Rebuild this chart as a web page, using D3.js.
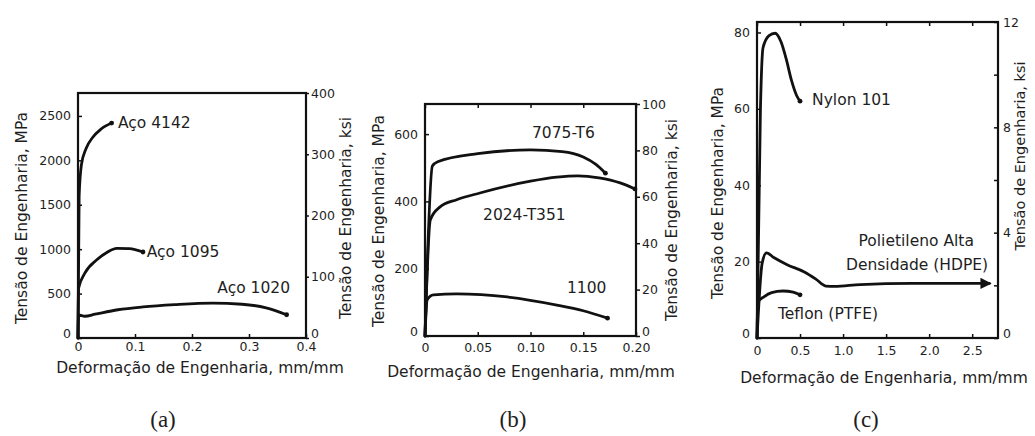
<!DOCTYPE html>
<html>
<head>
<meta charset="utf-8">
<script src="https://cdn.jsdelivr.net/npm/d3@7"></script>
<style>
  body { margin: 0; background: #fff; }
  svg text { font-family: "DejaVu Sans", sans-serif; fill: #1e1e1e; }
</style>
</head>
<body>
<div id="chart"></div>
<script>
// curves: [strain mm/mm, stress MPa]
var aco4142 = [[0,0],[0.002,1600],[0.006,1950],[0.014,2130],[0.026,2260],[0.04,2350],[0.059,2420]];
var aco1095 = [[0,0],[0.001,560],[0.012,730],[0.033,880],[0.05,960],[0.068,1010],[0.09,1005],[0.114,968]];
var aco1020 = [[0,0],[0.001,260],[0.012,245],[0.03,268],[0.07,318],[0.114,350],[0.17,375],[0.236,392],[0.288,380],[0.33,340],[0.366,262]];

var al7075 = [[0,0],[0.007,505],[0.012,518],[0.05,542],[0.1,553],[0.13,548],[0.15,532],[0.162,510],[0.171,484]];
var al2024 = [[0,0],[0.005,345],[0.014,383],[0.03,405],[0.052,425],[0.1,460],[0.125,472],[0.145,476],[0.165,470],[0.185,455],[0.199,437]];
var al1100 = [[0,0],[0.002,107],[0.008,122],[0.03,125],[0.078,116],[0.125,92],[0.15,75],[0.173,53]];

var nylon101 = [[0,0],[0.04,60],[0.07,76],[0.14,79.2],[0.21,79.8],[0.28,77.5],[0.34,73],[0.4,67.5],[0.46,63.5],[0.5,62]];
var hdpe = [[0,0],[0.06,19.6],[0.11,22.3],[0.2,21],[0.35,19.2],[0.55,17.3],[0.68,15.5],[0.8,13.6],[0.9,13.5],[1.2,14],[1.8,14.3],[2.7,14.3]];
var teflon = [[0,0],[0.01,9.4],[0.08,10.8],[0.17,11.9],[0.3,12.3],[0.42,12],[0.5,11.3]];

// tick labels
var xTicksA = [0, 0.1, 0.2, 0.3, 0.4];
var yTicksA = [0, 500, 1000, 1500, 2000, 2500];
var ksiTicksA = [0, 100, 200, 300, 400];
var xTicksB = [0, 0.05, 0.10, 0.15, 0.20];
var yTicksB = [0, 200, 400, 600];
var ksiTicksB = [0, 20, 40, 60, 80, 100];
var xTicksC = [0, 0.5, 1.0, 1.5, 2.0, 2.5];
var yTicksC = [0, 20, 40, 60, 80];
var ksiTicksC = [0, 2, 4, 6, 8, 10, 12];
var ksiLabelsC = [0, 4, 8, 12];

var MPA_PER_KSI = 6.895;

var svg = d3.select("#chart").append("svg")
    .attr("width", 1035)
    .attr("height", 436);

svg.append("defs").append("marker")
    .attr("id", "arrow")
    .attr("viewBox", "0 0 10 10")
    .attr("refX", 8).attr("refY", 5)
    .attr("markerWidth", 4).attr("markerHeight", 4)
    .attr("orient", "auto")
  .append("path")
    .attr("d", "M0,0 L10,5 L0,10 z")
    .attr("fill", "#111");

function panel(cfg) {
    var x = d3.scaleLinear().domain(cfg.xDomain).range(cfg.xRange);
    var y = d3.scaleLinear().domain([0, cfg.ksiMax * MPA_PER_KSI]).range(cfg.yRange);
    var yk = d3.scaleLinear().domain([0, cfg.ksiMax]).range(cfg.yRange);
    var g = svg.append("g");

    var fmt = function(d) { return d === 0 ? "0" : d3.format(cfg.xFmt)(d); };

    // bottom axis
    g.append("g")
        .attr("transform", "translate(0," + cfg.yRange[0] + ")")
        .call(d3.axisBottom(x).tickValues(cfg.xTicks).tickFormat(fmt)
            .tickSize(-4).tickPadding(cfg.xPad));
    // top ticks
    if (cfg.topTicks) {
        g.append("g")
            .attr("transform", "translate(0," + cfg.yRange[1] + ")")
            .call(d3.axisTop(x).tickValues(cfg.xTicks).tickFormat("").tickSize(-4));
    }
    // left axis MPa
    var left = g.append("g")
        .attr("transform", "translate(" + cfg.xRange[0] + ",0)")
        .call(d3.axisLeft(y).tickValues(cfg.yTicks).tickFormat(d3.format("d"))
            .tickSize(-4).tickPadding(7));
    // right axis ksi
    var right = g.append("g")
        .attr("transform", "translate(" + cfg.xRange[1] + ",0)")
        .call(d3.axisRight(yk).tickValues(cfg.ksiTicks)
            .tickFormat(function(d) { return cfg.ksiLabels.indexOf(d) >= 0 ? d : ""; })
            .tickSize(cfg.ksiTick).tickPadding(cfg.ksiPad));

    // the zero labels sit a little above the bottom line, as in the picture
    [left, right].forEach(function(a) {
        a.selectAll(".tick").filter(function(d) { return d === 0; })
            .select("text").attr("transform", "translate(0,-5)");
    });

    g.selectAll(".domain").remove();
    g.selectAll(".tick line").attr("stroke", "#111").attr("stroke-width", 1.5);
    g.selectAll(".tick text").style("font-size", "12.5px").attr("fill", "#1e1e1e");

    // frame
    g.append("rect")
        .attr("x", cfg.xRange[0]).attr("y", cfg.yRange[1])
        .attr("width", cfg.xRange[1] - cfg.xRange[0])
        .attr("height", cfg.yRange[0] - cfg.yRange[1])
        .attr("fill", "none").attr("stroke", "#111").attr("stroke-width", 2.2);

    var line = d3.line()
        .x(function(d) { return x(d[0]); })
        .y(function(d) { return y(d[1]); })
        .curve(d3.curveMonotoneX);

    cfg.series.forEach(function(s) {
        g.append("path")
            .datum(s.data)
            .attr("d", line)
            .attr("fill", "none")
            .attr("stroke", "#111")
            .attr("stroke-width", 2.8)
            .attr("stroke-linecap", "round")
            .attr("stroke-linejoin", "round")
            .attr("marker-end", s.arrow ? "url(#arrow)" : null);
        if (!s.arrow) {
            var last = s.data[s.data.length - 1];
            g.append("circle").attr("cx", x(last[0])).attr("cy", y(last[1]))
                .attr("r", 2.4).attr("fill", "#111");
        }
    });

    cfg.labels.forEach(function(l) {
        g.append("text")
            .attr("x", x(l.at[0])).attr("y", y(l.at[1]))
            .attr("dy", "0.35em")
            .attr("text-anchor", l.anchor || "start")
            .style("font-size", "15.5px")
            .text(l.text);
    });

    // axis titles
    g.append("text")
        .attr("x", cfg.xTitle[0]).attr("y", cfg.xTitle[1])
        .attr("dy", "0.35em").attr("text-anchor", "middle")
        .style("font-size", "15.5px")
        .text("Deformação de Engenharia, mm/mm");
    [["Tensão de Engenharia, MPa", cfg.yTitleL], ["Tensão de Engenharia, ksi", cfg.yTitleR]].forEach(function(t) {
        g.append("text")
            .attr("transform", "translate(" + t[1][0] + "," + t[1][1] + ") rotate(-90)")
            .attr("dy", "0.35em").attr("text-anchor", "middle")
            .style("font-size", (t[1][2] || 15.5) + "px")
            .text(t[0]);
    });

    svg.append("text")
        .attr("x", cfg.caption[0]).attr("y", cfg.caption[1])
        .attr("text-anchor", "middle")
        .style("font-family", "'Liberation Serif', serif")
        .style("font-size", "23px")
        .text(cfg.captionText);
}

panel({
    xDomain: [0, 0.4], xRange: [78, 306], yRange: [338, 93], ksiMax: 400,
    xTicks: xTicksA, yTicks: yTicksA, ksiTicks: ksiTicksA, ksiLabels: ksiTicksA,
    xFmt: ".1f", xPad: 4, ksiTick: 3, ksiPad: 2, topTicks: false,
    series: [{data: aco4142}, {data: aco1095}, {data: aco1020}],
    labels: [
        {text: "Aço 4142", at: [0.07, 2420]},
        {text: "Aço 1095", at: [0.1205, 968]},
        {text: "Aço 1020", at: [0.2445, 563]}
    ],
    xTitle: [200, 368], yTitleL: [22, 218], yTitleR: [346, 218],
    caption: [163, 427], captionText: "(a)"
});

panel({
    xDomain: [0, 0.2], xRange: [425, 636], yRange: [336, 104], ksiMax: 100,
    xTicks: xTicksB, yTicks: yTicksB, ksiTicks: ksiTicksB, ksiLabels: ksiTicksB,
    xFmt: ".2f", xPad: 7, ksiTick: 4, ksiPad: 2, topTicks: true,
    series: [{data: al7075}, {data: al2024}, {data: al1100}],
    labels: [
        {text: "7075-T6", at: [0.1014, 606]},
        {text: "2024-T351", at: [0.055, 360]},
        {text: "1100", at: [0.1346, 143]}
    ],
    xTitle: [531, 372], yTitleL: [379, 221], yTitleR: [672, 220],
    caption: [513, 427], captionText: "(b)"
});

panel({
    xDomain: [0, 2.8], xRange: [757, 998], yRange: [338, 22], ksiMax: 12,
    xTicks: xTicksC, yTicks: yTicksC, ksiTicks: ksiTicksC, ksiLabels: ksiLabelsC,
    xFmt: ".1f", xPad: 8, ksiTick: -4, ksiPad: 5, topTicks: true,
    series: [{data: nylon101}, {data: hdpe, arrow: true}, {data: teflon}],
    labels: [
        {text: "Nylon 101", at: [0.64, 62.3]},
        {text: "Polietileno Alta", at: [1.85, 25.4], anchor: "middle"},
        {text: "Densidade (HDPE)", at: [1.86, 19.1], anchor: "middle"},
        {text: "Teflon (PTFE)", at: [0.244, 6.5]}
    ],
    xTitle: [884, 378], yTitleL: [718, 193], yTitleR: [1020, 156, 14.5],
    caption: [866, 427], captionText: "(c)"
});
</script>
</body>
</html>
